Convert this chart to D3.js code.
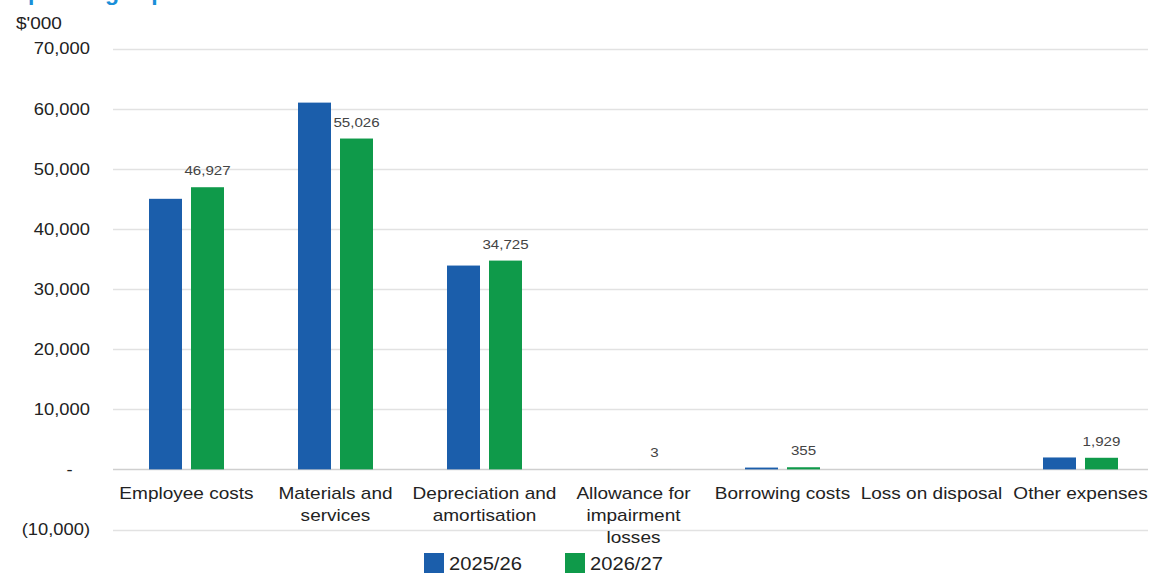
<!DOCTYPE html>
<html>
<head>
<meta charset="utf-8">
<script src="https://cdn.jsdelivr.net/npm/d3@7"></script>
<style>
  html, body { margin: 0; padding: 0; background: #fff; }
  svg { display: block; font-family: "Liberation Sans", Arial, sans-serif; }
</style>
</head>
<body>
<svg id="chart" width="1155" height="575"></svg>
<script>
// Operating expenses by type, $'000
const categories = [
  ["Employee costs"],
  ["Materials and", "services"],
  ["Depreciation and", "amortisation"],
  ["Allowance for", "impairment", "losses"],
  ["Borrowing costs"],
  ["Loss on disposal"],
  ["Other expenses"]
];
const seriesNames = ["2025/26", "2026/27"];
const values2025 = [45000, 61000, 33900, 0, 300, 0, 1980];
const values2026 = [46927, 55026, 34725, 3, 355, 0, 1929];
const yTicks = [-10000, 0, 10000, 20000, 30000, 40000, 50000, 60000, 70000];
// Labels shown above the 2026/27 bars (Loss on disposal has none)
const labelled2026 = [true, true, true, true, true, false, true];

const colors = ["#1b5eab", "#0f9a4a"];
const WIDE = 1.12; // horizontal stretch of the lettering

const svg = d3.select("#chart");

const y = d3.scaleLinear().domain([-10000, 70000]).range([529.5, 48.5]);
const x0 = d3.scaleBand().domain(d3.range(categories.length)).range([112, 1155]).padding(0);
const groupW = 75;
const x1 = d3.scaleBand().domain([0, 1]).range([0, groupW]).paddingInner(9 / 42).paddingOuter(0);

// Text placed at (x, y) and widened about its anchor point
function wideText(parent, x, yy, size, anchor, sx) {
  return parent.append("g")
    .attr("transform", `translate(${x},${yy}) scale(${sx || WIDE},1)`)
    .append("text")
    .attr("text-anchor", anchor || "start")
    .attr("font-size", size)
    .attr("fill", "#222");
}

// Title (clipped at the top edge)
wideText(svg, 10, 0, 22, "start", 1.05)
  .attr("fill", "#1a8fd8")
  .attr("font-weight", "bold")
  .text("Operating expenses");

// Units label
wideText(svg, 16, 29, 17).text("$'000");

// Gridlines
svg.append("g")
  .selectAll("line")
  .data(yTicks)
  .join("line")
  .attr("x1", 113).attr("x2", 1148)
  .attr("y1", d => Math.round(y(d)) + 0.5)
  .attr("y2", d => Math.round(y(d)) + 0.5)
  .attr("stroke", d => d === 0 ? "#cfcfcf" : "#e2e2e2")
  .attr("stroke-width", 1.3);

// Y axis labels
const yAxis = d3.axisLeft(y)
  .tickValues(yTicks)
  .tickSize(0)
  .tickPadding(0)
  .tickFormat(d => d === 0 ? "-" : (d < 0 ? "(" + d3.format(",")(-d) + ")" : d3.format(",")(d)));
const yg = svg.append("g").attr("transform", "translate(90,0)").call(yAxis);
yg.select(".domain").remove();
yg.selectAll("text")
  .attr("fill", "#222")
  .attr("font-size", 17)
  .attr("font-family", "Liberation Sans, Arial, sans-serif")
  .attr("transform", "scale(1.08,1)")
  .attr("dx", d => d === 0 ? -16 : 0);

// Bars
const groups = svg.append("g")
  .selectAll("g")
  .data(categories.map((c, i) => i))
  .join("g")
  .attr("transform", i => `translate(${x0(i) + x0.bandwidth() / 2 - groupW / 2},0)`);

groups.selectAll("rect")
  .data(i => [values2025[i], values2026[i]].map((v, s) => ({ v, s })))
  .join("rect")
  .attr("x", d => x1(d.s))
  .attr("width", x1.bandwidth())
  .attr("y", d => Math.min(y(d.v), y(0)))
  .attr("height", d => Math.abs(y(0) - y(d.v)))
  .attr("fill", d => colors[d.s]);

// Value labels above the 2026/27 bars
groups.filter(i => labelled2026[i]).each(function (i) {
  wideText(d3.select(this), x1(1) + x1.bandwidth() / 2, y(Math.max(values2026[i], 0)) - 12, 13.5, "middle")
    .attr("fill", "#444")
    .text(d3.format(",")(values2026[i]));
});

// Category labels
categories.forEach((lines, i) => {
  const t = wideText(svg, x0(i) + x0.bandwidth() / 2, 499, 17, "middle");
  lines.forEach((ln, k) => {
    t.append("tspan")
      .attr("x", 0)
      .attr("dy", k === 0 ? 0 : 22)
      .text(ln);
  });
});

// Legend
const legendX = [424, 565];
seriesNames.forEach((name, s) => {
  svg.append("rect")
    .attr("x", legendX[s]).attr("y", 553)
    .attr("width", 20).attr("height", 20)
    .attr("fill", colors[s]);
  wideText(svg, legendX[s] + 25, 570, 18).text(name);
});
</script>
</body>
</html>
